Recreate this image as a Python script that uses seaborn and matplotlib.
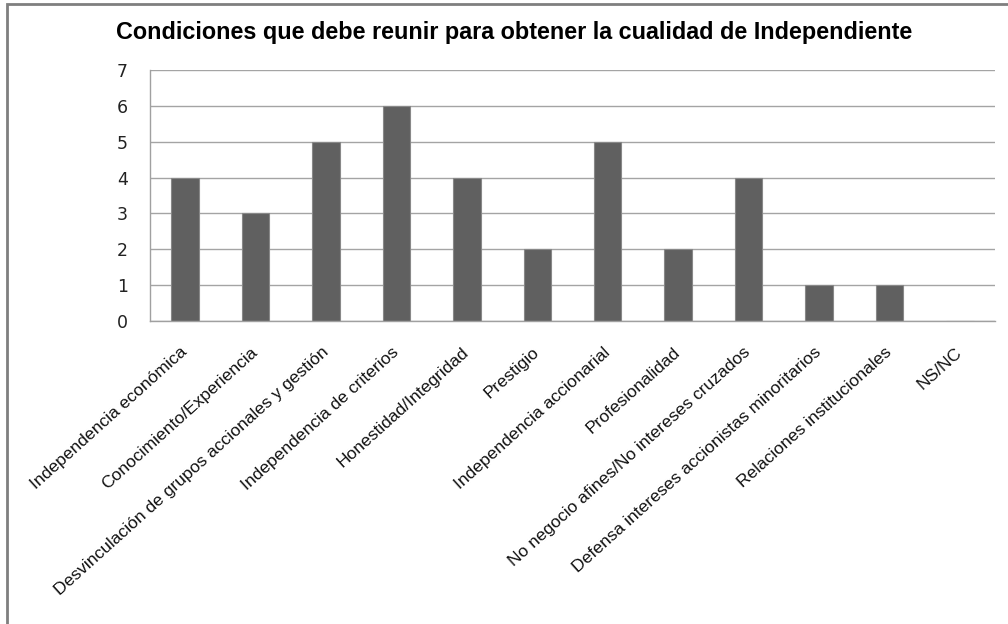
import matplotlib
matplotlib.use("Agg")
import matplotlib.pyplot as plt
import seaborn as sns
import pandas as pd
from matplotlib.patches import Rectangle

# Survey answers: conditions required to be considered an independent director
categories = [
    "Independencia económica",
    "Conocimiento/Experiencia",
    "Desvinculación de grupos accionales y gestión",
    "Independencia de criterios",
    "Honestidad/Integridad",
    "Prestigio",
    "Independencia accionarial",
    "Profesionalidad",
    "No negocio afines/No intereses cruzados",
    "Defensa intereses accionistas minoritarios",
    "Relaciones institucionales",
    "NS/NC",
]
counts = [4, 3, 5, 6, 4, 2, 5, 2, 4, 1, 1, 0]
y_ticks = [0, 1, 2, 3, 4, 5, 6, 7]
title = "Condiciones que debe reunir para obtener la cualidad de Independiente"

sns.set_theme(style="white")
plt.rcParams["font.family"] = ["Liberation Sans", "DejaVu Sans"]

W, H = 1008, 624
fig = plt.figure(figsize=(W / 100, H / 100), dpi=100)
fig.patch.set_facecolor("white")

left, right, top, bottom = 150, 995, 70, 321
ax = fig.add_axes([left / W, 1 - bottom / H, (right - left) / W, (bottom - top) / H])

df = pd.DataFrame({"condicion": categories, "respuestas": counts})
sns.barplot(
    data=df, x="condicion", y="respuestas", order=categories,
    color="#606060", saturation=1, width=0.39,
    edgecolor="#888888", linewidth=0.8, ax=ax,
)

ax.set_ylim(0, 7)
ax.set_yticks(y_ticks)
ax.set_xlabel("")
ax.set_ylabel("")
ax.yaxis.grid(True, color="#a4a4a4", linewidth=1.0)
ax.set_axisbelow(True)
for side in ("top", "right"):
    ax.spines[side].set_visible(False)
for side in ("left", "bottom"):
    ax.spines[side].set_color("#a0a0a0")
    ax.spines[side].set_linewidth(1.0)

ax.tick_params(axis="y", length=0, pad=16)
ax.tick_params(axis="x", length=0, pad=21)
for lbl in ax.get_yticklabels():
    lbl.set_family("DejaVu Sans")
    lbl.set_fontsize(12.5)
    lbl.set_color("#222222")
for lbl in ax.get_xticklabels():
    lbl.set_fontsize(12.6)
    lbl.set_color("#111111")
    lbl.set_rotation(42)
    lbl.set_ha("right")
    lbl.set_va("center")
    lbl.set_rotation_mode("anchor")

fig.text(514 / W, 1 - 33 / H, title, ha="center", va="center",
         fontsize=16.8, fontweight="bold", color="black")

# outer chart frame (only top and left edges fall inside the canvas)
fig.add_artist(Rectangle((6.5 / W, -0.1), 2.0, 1.1 - 3.5 / H,
                         transform=fig.transFigure, fill=False,
                         edgecolor="#7f7f7f", linewidth=2.0))

fig.savefig("out.png", dpi=100)
